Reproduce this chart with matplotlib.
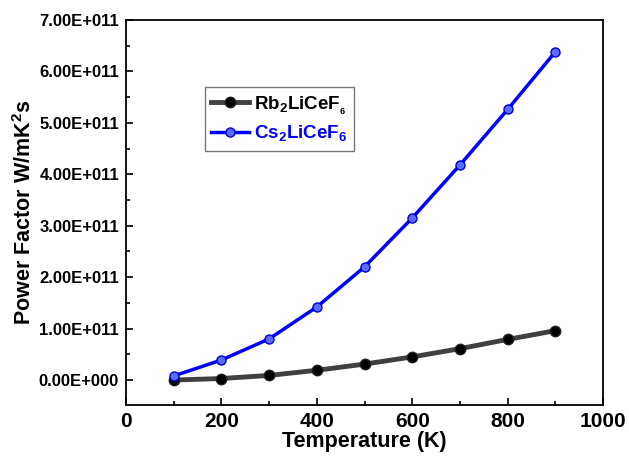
import numpy as np
import matplotlib.pyplot as plt
from matplotlib.ticker import MultipleLocator, FuncFormatter

plt.rcParams['font.family'] = ['Liberation Sans', 'DejaVu Sans']
plt.rcParams['font.weight'] = 'bold'
plt.rcParams['mathtext.fontset'] = 'custom'
plt.rcParams['mathtext.bf'] = 'Liberation Sans:bold'
plt.rcParams['mathtext.rm'] = 'Liberation Sans:bold'

# data
temperature = [100, 200, 300, 400, 500, 600, 700, 800, 900]
pf_rb = [0.0, 0.03e11, 0.09e11, 0.19e11, 0.31e11, 0.45e11, 0.61e11, 0.79e11, 0.96e11]
pf_cs = [0.08e11, 0.39e11, 0.80e11, 1.42e11, 2.20e11, 3.15e11, 4.18e11, 5.26e11, 6.38e11]
labels = [r'Rb$_\mathbf{2}$LiCeF$_{{}_\mathbf{6}}$', r'Cs$_\mathbf{2}$LiCeF$_\mathbf{6}$']

fig = plt.figure(figsize=(6.29, 4.58), dpi=100)
ax = fig.add_axes([126 / 629, 53 / 458, 477 / 629, 385 / 458])

ax.plot(temperature, pf_rb, color='#404040', lw=3.5, marker='o', ms=7.5,
        mfc='black', mec='#202020', label=labels[0])
ax.plot(temperature, pf_cs, color='#0000ff', lw=2.5, marker='o', ms=6.5,
        mfc='#5a6cff', mec='#0000d0', label=labels[1])

ax.set_xlim(0, 1000)
ax.set_ylim(-0.485e11, 7e11)
ax.xaxis.set_major_locator(MultipleLocator(200))
ax.xaxis.set_minor_locator(MultipleLocator(100))
ax.yaxis.set_major_locator(MultipleLocator(1e11))
ax.yaxis.set_minor_locator(MultipleLocator(0.5e11))


def sci_fmt(v, pos):
    if abs(v) < 1:
        return '0.00E+000'
    exp = int(np.floor(np.log10(abs(v))))
    return '%.2fE+%03d' % (v / 10 ** exp, exp)


ax.yaxis.set_major_formatter(FuncFormatter(sci_fmt))
ax.tick_params(which='both', direction='in', top=False, right=False, width=1.2)
ax.tick_params(which='major', length=5, pad=5)
ax.tick_params(which='minor', length=3)
ax.tick_params(axis='y', labelsize=12)
ax.tick_params(axis='x', labelsize=15)
for s in ax.spines.values():
    s.set_linewidth(1.3)

ax.set_xlabel('Temperature (K)', fontsize=15.5, fontweight='bold', labelpad=0)
ax.set_ylabel(r'Power Factor W/mK$^\mathbf{2}$s', fontsize=15.5, fontweight='bold', labelpad=2)

leg = ax.legend(loc='upper left', bbox_to_anchor=(0.165, 0.825),
                prop={'weight': 'bold', 'size': 13.5}, fancybox=False, edgecolor='#555555',
                handlelength=2.0, handletextpad=0.3, borderpad=0.35, labelspacing=0.4,
                borderaxespad=0)
leg.get_texts()[1].set_color('#0000ff')

fig.savefig('out.png', dpi=100)
